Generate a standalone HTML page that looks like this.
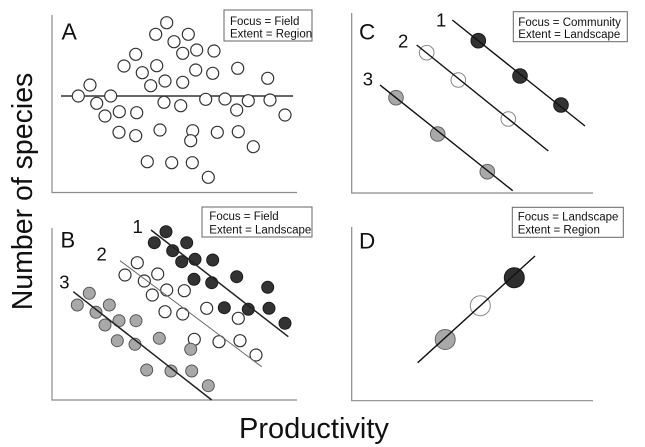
<!DOCTYPE html>
<html><head><meta charset="utf-8"><style>
html,body{margin:0;padding:0;background:#fff;}
svg{display:block;}
text{font-family:"Liberation Sans",Arial,sans-serif;fill:#111;}
</style></head><body>
<svg width="645" height="447" viewBox="0 0 645 447" xmlns="http://www.w3.org/2000/svg">
<!-- axes -->
<g stroke="#8a8a8a" stroke-width="1.2" fill="none">
<polyline points="52,15 52,192.5 297,192.5"/>
<polyline points="52,228 52,400 297,400"/>
<polyline points="351.7,13 351.7,193 593,193"/>
<polyline points="351.7,227 351.7,400.7 593,400.7"/>
</g>
<!-- axis titles -->
<text x="0" y="0" font-size="28.5" text-anchor="middle" transform="translate(32,191.5) rotate(-90)">Number of species</text>
<text x="314" y="438" font-size="29" text-anchor="middle">Productivity</text>

<!-- Panel A -->
<text x="61.5" y="39.5" font-size="23">A</text>
<rect x="224" y="10" width="88" height="31" fill="#fff" stroke="#666" stroke-width="1"/>
<text x="230" y="25" font-size="11.5">Focus = Field</text>
<text x="230" y="37.3" font-size="11.5">Extent = Region</text>
<line x1="61" y1="96" x2="293" y2="96" stroke="#333" stroke-width="1.5"/>
<g fill="#fff" stroke="#333" stroke-width="1.2">
<circle cx="166.7" cy="22.7" r="6"/><circle cx="155.7" cy="34.3" r="6"/><circle cx="188.3" cy="34.3" r="6"/>
<circle cx="174" cy="41.7" r="6"/><circle cx="135.7" cy="54.3" r="6"/><circle cx="182.7" cy="53.3" r="6"/>
<circle cx="196.7" cy="50" r="6"/><circle cx="214" cy="51" r="6"/><circle cx="124" cy="66" r="6"/>
<circle cx="156.7" cy="65.7" r="6"/><circle cx="142.3" cy="72.7" r="6"/><circle cx="195.7" cy="70" r="6"/>
<circle cx="212.7" cy="73.3" r="6"/><circle cx="237.7" cy="68.3" r="6"/><circle cx="90" cy="85" r="6"/>
<circle cx="150.7" cy="85.7" r="6"/><circle cx="165" cy="81" r="6"/><circle cx="182.7" cy="82.3" r="6"/>
<circle cx="267.7" cy="78.3" r="6"/><circle cx="78.3" cy="96" r="6"/><circle cx="110.7" cy="96" r="6"/>
<circle cx="96.7" cy="103.3" r="6"/><circle cx="164" cy="102.3" r="6"/><circle cx="180.7" cy="105.7" r="6"/>
<circle cx="205.7" cy="99.3" r="6"/><circle cx="225" cy="99" r="6"/><circle cx="248.3" cy="100.7" r="6"/>
<circle cx="270" cy="100" r="6"/><circle cx="236.7" cy="110" r="6"/><circle cx="105" cy="116" r="6"/>
<circle cx="119.3" cy="111.7" r="6"/><circle cx="136.7" cy="112.7" r="6"/><circle cx="285" cy="115" r="6"/>
<circle cx="119" cy="132.3" r="6"/><circle cx="135.7" cy="135.7" r="6"/><circle cx="160" cy="130" r="6"/>
<circle cx="192.7" cy="130.7" r="6"/><circle cx="190.7" cy="140.7" r="6"/><circle cx="217.3" cy="132.3" r="6"/>
<circle cx="238.3" cy="131.7" r="6"/><circle cx="253.3" cy="146.7" r="6"/><circle cx="147.3" cy="161.7" r="6"/>
<circle cx="171.7" cy="162.7" r="6"/><circle cx="192.3" cy="162.7" r="6"/><circle cx="208.3" cy="177.3" r="6"/>
</g>

<!-- Panel B -->
<text x="60.5" y="247.5" font-size="22">B</text>
<rect x="202" y="207" width="110" height="30" fill="#fff" stroke="#666" stroke-width="1"/>
<text x="209.3" y="220" font-size="11.5">Focus = Field</text>
<text x="209.3" y="233.5" font-size="11.5">Extent = Landscape</text>
<text x="132.5" y="233" font-size="18.5">1</text>
<text x="96.5" y="260.7" font-size="18.5">2</text>
<text x="59.3" y="288.3" font-size="18.5">3</text>
<g fill="#333" stroke="#1a1a1a" stroke-width="1">
<circle cx="166" cy="231.7" r="6"/><circle cx="154.3" cy="242.7" r="6"/><circle cx="186.7" cy="242.7" r="6"/>
<circle cx="172.7" cy="250.7" r="6"/><circle cx="181.7" cy="261.7" r="6"/><circle cx="195" cy="259.3" r="6"/>
<circle cx="212.7" cy="260" r="6"/><circle cx="194" cy="279.3" r="6"/><circle cx="211.7" cy="282.7" r="6"/>
<circle cx="236.7" cy="276.7" r="6"/><circle cx="267.7" cy="287.3" r="6"/><circle cx="224.3" cy="307.7" r="6"/>
<circle cx="248.3" cy="309.3" r="6"/><circle cx="269" cy="308.3" r="6"/><circle cx="285" cy="323.3" r="6"/>
</g>
<g fill="#fff" stroke="#333" stroke-width="1.2">
<circle cx="137.3" cy="262.7" r="6"/><circle cx="125" cy="275" r="6"/><circle cx="144.3" cy="281" r="6"/>
<circle cx="157.7" cy="274" r="6"/><circle cx="166.7" cy="290" r="6"/><circle cx="184.3" cy="290.7" r="6"/>
<circle cx="152.3" cy="295" r="6"/><circle cx="165" cy="311.7" r="6"/><circle cx="182.7" cy="314" r="6"/>
<circle cx="206.7" cy="308.3" r="6"/><circle cx="238.3" cy="318.3" r="6"/><circle cx="194.3" cy="339.3" r="6"/>
<circle cx="219" cy="341.7" r="6"/><circle cx="240" cy="340.7" r="6"/><circle cx="256" cy="355" r="6"/>
</g>
<g fill="#a8a8a8" stroke="#555" stroke-width="1">
<circle cx="89.3" cy="293.3" r="6"/><circle cx="77.3" cy="305" r="6"/><circle cx="96" cy="312.3" r="6"/>
<circle cx="109.3" cy="305" r="6"/><circle cx="119" cy="320.7" r="6"/><circle cx="105" cy="325" r="6"/>
<circle cx="136" cy="320.7" r="6"/><circle cx="117.3" cy="340.7" r="6"/><circle cx="135" cy="344.3" r="6"/>
<circle cx="159.3" cy="338.3" r="6"/><circle cx="190.7" cy="349.3" r="6"/><circle cx="146.7" cy="370" r="6"/>
<circle cx="171" cy="371" r="6"/><circle cx="191.7" cy="371" r="6"/><circle cx="208.3" cy="385.7" r="6"/>
</g>
<line x1="151" y1="230" x2="288.3" y2="336.7" stroke="#222" stroke-width="1.5"/>
<line x1="120" y1="260.7" x2="261.7" y2="366.7" stroke="#666" stroke-width="1"/>
<line x1="73.3" y1="291.7" x2="211.7" y2="400" stroke="#222" stroke-width="1.5"/>

<!-- Panel C -->
<text x="359" y="39.5" font-size="22.5">C</text>
<rect x="513.3" y="11.7" width="114" height="30" fill="#fff" stroke="#666" stroke-width="1"/>
<text x="518.3" y="26" font-size="11.5">Focus = Community</text>
<text x="518.3" y="38" font-size="11.5">Extent = Landscape</text>
<text x="436" y="26.7" font-size="18.5">1</text>
<text x="398" y="47.7" font-size="18.5">2</text>
<text x="362.7" y="85.7" font-size="18.5">3</text>
<circle cx="478.3" cy="40.7" r="7.3" fill="#333" stroke="#1a1a1a" stroke-width="1"/>
<circle cx="520" cy="76" r="7.3" fill="#333" stroke="#1a1a1a" stroke-width="1"/>
<circle cx="561" cy="105" r="7.3" fill="#333" stroke="#1a1a1a" stroke-width="1"/>
<circle cx="426.7" cy="52.7" r="7.3" fill="#fff" stroke="#888" stroke-width="1"/>
<circle cx="458.3" cy="80" r="7.3" fill="#fff" stroke="#888" stroke-width="1"/>
<circle cx="508.3" cy="119" r="7.3" fill="#fff" stroke="#888" stroke-width="1"/>
<circle cx="396" cy="97.7" r="7.3" fill="#a8a8a8" stroke="#666" stroke-width="1"/>
<circle cx="437.7" cy="134" r="7.3" fill="#a8a8a8" stroke="#666" stroke-width="1"/>
<circle cx="487.3" cy="171.7" r="7.3" fill="#a8a8a8" stroke="#666" stroke-width="1"/>
<g stroke="#111" stroke-width="1.4">
<line x1="452.3" y1="20" x2="585" y2="126"/>
<line x1="416.7" y1="45" x2="548.3" y2="151"/>
<line x1="380" y1="85" x2="512.7" y2="190.7"/>
</g>

<!-- Panel D -->
<text x="359" y="248.5" font-size="22.5">D</text>
<rect x="512.3" y="207.3" width="111" height="30" fill="#fff" stroke="#666" stroke-width="1"/>
<text x="517.7" y="220.7" font-size="11.5">Focus = Landscape</text>
<text x="517.7" y="233.3" font-size="11.5">Extent = Region</text>
<circle cx="514.3" cy="277.7" r="10" fill="#2e2e2e" stroke="#1a1a1a" stroke-width="1"/>
<circle cx="480.3" cy="305.7" r="10" fill="#fff" stroke="#888" stroke-width="1"/>
<circle cx="445.2" cy="339.5" r="10" fill="#a8a8a8" stroke="#666" stroke-width="1"/>
<line x1="417.7" y1="362.7" x2="535" y2="256" stroke="#111" stroke-width="1.4"/>
</svg>
</body></html>
